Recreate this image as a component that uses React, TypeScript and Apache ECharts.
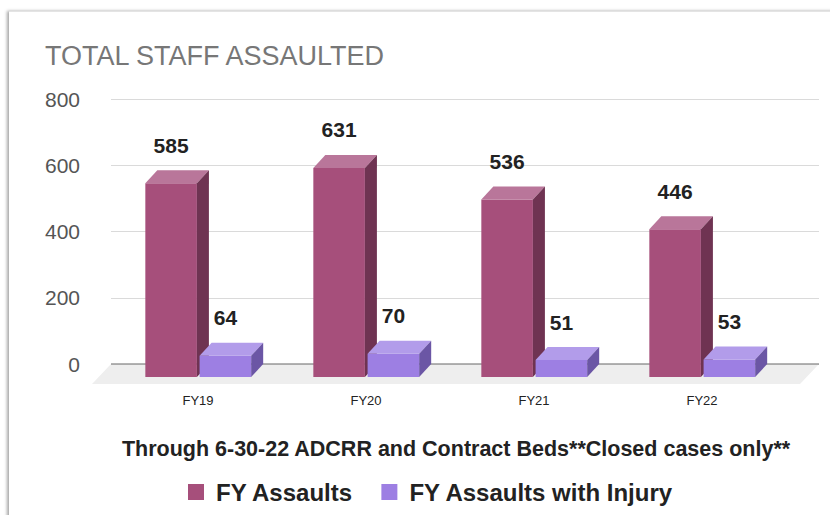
import React, { useEffect, useRef } from "react";
import * as echarts from "echarts";

const categories = ["FY19", "FY20", "FY21", "FY22"];
const assaults = [585, 631, 536, 446];
const assaultsInjury = [64, 70, 51, 53];
const yMin = 0;
const yMax = 800;
const yInterval = 200;
const seriesNames = ["FY Assaults", "FY Assaults with Injury"];
const titleText = "TOTAL STAFF ASSAULTED";
const subtitleText = "Through 6-30-22 ADCRR and Contract Beds**Closed cases only**";

const FONT = '"Liberation Sans", Arial, sans-serif';
const palettes = [
  { front: "#a64f7b", top: "#b9769a", side: "#6f3352" },
  { front: "#9d7fe3", top: "#b29cea", side: "#6b56a5" },
];
const DX = 12;
const DY = 13;
const FLOOR_DX = 19;
const FLOOR_DY = 20;

function makeBarRender(si: number) {
  return (params: any, api: any) => {
    const idx = api.value(0);
    const val = api.value(1);
    const base = api.coord([idx, 0]);
    const topP = api.coord([idx, val]);
    const band = api.size([1, 0])[0];
    const w = band * 0.307;
    const cx = base[0] + (si === 0 ? -0.16 : 0.163) * band;
    const x0 = cx - w / 2;
    const x1 = cx + w / 2;
    const yb = base[1];
    const yt = topP[1];
    const p = palettes[si];
    return {
      type: "group",
      children: [
        { type: "rect", shape: { x: x0, y: yt, width: w, height: yb - yt }, style: { fill: p.front } },
        {
          type: "polygon",
          shape: { points: [[x0, yt], [x0 + DX, yt - DY], [x1 + DX, yt - DY], [x1, yt]] },
          style: { fill: p.top },
        },
        {
          type: "polygon",
          shape: { points: [[x1, yt], [x1 + DX, yt - DY], [x1 + DX, yb - DY], [x1, yb]] },
          style: { fill: p.side },
        },
        {
          type: "text",
          x: cx,
          y: yt - DY - 25,
          style: {
            text: String(val),
            fill: "#222",
            fontSize: 21,
            fontWeight: "bold",
            fontFamily: FONT,
            align: "center",
            verticalAlign: "middle",
          },
        },
      ],
    };
  };
}

function floorRender(params: any, api: any) {
  const a = api.coord([0, 0]);
  const b = api.coord([1, 0]);
  return {
    type: "group",
    children: [
      {
        type: "polygon",
        shape: {
          points: [a, b, [b[0] - FLOOR_DX, b[1] + FLOOR_DY], [a[0] - FLOOR_DX, a[1] + FLOOR_DY]],
        },
        style: { fill: "#eeeeee" },
      },
      {
        type: "line",
        shape: { x1: a[0], y1: a[1], x2: b[0], y2: b[1] },
        style: { stroke: "#666", lineWidth: 1 },
      },
    ],
  };
}

export default function App() {
  const ref = useRef<HTMLDivElement>(null);
  useEffect(() => {
    if (!ref.current) return;
    const chart = echarts.init(ref.current, undefined, { renderer: "svg" });
    chart.setOption({
      animation: false,
      title: {
        text: titleText,
        left: 45,
        top: 42,
        padding: 0,
        textStyle: { color: "#777", fontSize: 27, fontWeight: "normal", fontFamily: FONT },
      },
      legend: {
        data: seriesNames,
        icon: "rect",
        itemWidth: 16,
        itemHeight: 16,
        itemGap: 28,
        left: 183,
        top: 475,
        selectedMode: false,
        textStyle: { color: "#222", fontSize: 24, fontWeight: "bold", fontFamily: FONT, padding: [0, 0, 0, 7] },
      },
      grid: [
        { left: 111, right: 11, top: 99, bottom: 151, containLabel: false },
        { left: 114, right: 44, top: 112, bottom: 138, containLabel: false },
      ],
      xAxis: [
        { type: "value", gridIndex: 0, min: 0, max: 1, show: false },
        {
          type: "category",
          gridIndex: 1,
          data: categories,
          axisLine: { show: false },
          axisTick: { show: false },
          splitLine: { show: false },
          axisLabel: { color: "#222", fontSize: 13, margin: 17, fontFamily: FONT },
        },
      ],
      yAxis: [
        {
          type: "value",
          gridIndex: 0,
          min: yMin,
          max: yMax,
          interval: yInterval,
          axisLine: { show: false },
          axisTick: { show: false },
          axisLabel: { color: "#555", fontSize: 21, margin: 31, fontFamily: FONT },
          splitLine: { lineStyle: { color: "#dadada", width: 1 } },
        },
        {
          type: "value",
          gridIndex: 1,
          min: yMin,
          max: yMax,
          interval: yInterval,
          show: false,
          splitLine: { show: false },
        },
      ],
      graphic: [
        {
          type: "text",
          x: 456,
          y: 449,
          style: {
            text: subtitleText,
            fill: "#222",
            fontSize: 21.5,
            fontWeight: "bold",
            fontFamily: FONT,
            align: "center",
            verticalAlign: "middle",
          },
        },
      ],
      series: [
        {
          type: "custom",
          name: "floor",
          xAxisIndex: 0,
          yAxisIndex: 0,
          z: 1,
          silent: true,
          renderItem: floorRender,
          data: [[0, 0]],
        },
        {
          type: "custom",
          name: seriesNames[0],
          xAxisIndex: 1,
          yAxisIndex: 1,
          z: 2,
          itemStyle: { color: palettes[0].front },
          renderItem: makeBarRender(0),
          data: assaults.map((v, i) => [i, v]),
        },
        {
          type: "custom",
          name: seriesNames[1],
          xAxisIndex: 1,
          yAxisIndex: 1,
          z: 3,
          itemStyle: { color: palettes[1].front },
          renderItem: makeBarRender(1),
          data: assaultsInjury.map((v, i) => [i, v]),
        },
      ],
    });
    return () => chart.dispose();
  }, []);

  return (
    <div
      style={{
        position: "absolute",
        left: 0,
        top: 0,
        width: 830,
        height: 515,
        overflow: "hidden",
        background: "#fff",
      }}
    >
      <div
        style={{
          position: "absolute",
          left: 9,
          top: 11,
          width: 900,
          height: 600,
          background: "#fff",
          borderTop: "1px solid #e4e4e4",
          boxShadow: "-2px 0 3px rgba(0,0,0,0.35)",
        }}
      />
      <div ref={ref} style={{ position: "absolute", left: 0, top: 0, width: 830, height: 515 }} />
    </div>
  );
}
